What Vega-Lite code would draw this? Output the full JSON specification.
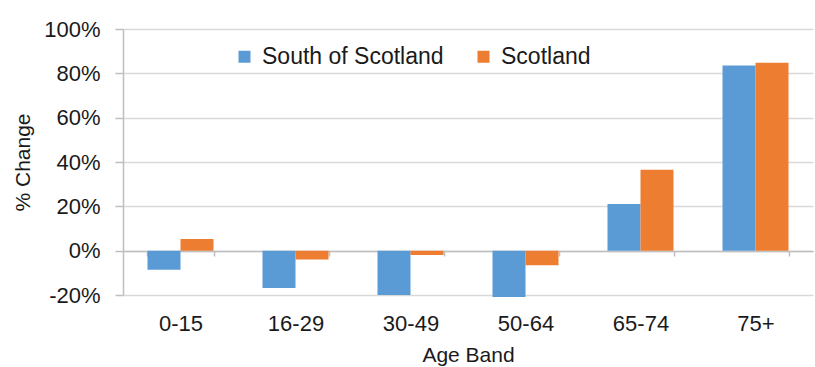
{
  "$schema": "https://vega.github.io/schema/vega-lite/v6.json",
  "width": 690,
  "height": 266,
  "autosize": {"type": "none"},
  "padding": {"left": 123, "top": 29, "right": 2, "bottom": 72},
  "background": "white",
  "config": {"font": "Liberation Sans", "view": {"stroke": null}},
  "data": {
    "values": [
      {"age": "0-15", "region": "South of Scotland", "value": -8.6},
      {"age": "0-15", "region": "Scotland", "value": 5.3},
      {"age": "16-29", "region": "South of Scotland", "value": -16.8},
      {"age": "16-29", "region": "Scotland", "value": -4.0},
      {"age": "30-49", "region": "South of Scotland", "value": -20.0},
      {"age": "30-49", "region": "Scotland", "value": -2.0},
      {"age": "50-64", "region": "South of Scotland", "value": -20.9},
      {"age": "50-64", "region": "Scotland", "value": -6.6},
      {"age": "65-74", "region": "South of Scotland", "value": 21.0},
      {"age": "65-74", "region": "Scotland", "value": 36.5},
      {"age": "75+", "region": "South of Scotland", "value": 83.5},
      {"age": "75+", "region": "Scotland", "value": 84.8}
    ]
  },
  "mark": {"type": "bar"},
  "encoding": {
    "x": {
      "field": "age",
      "type": "nominal",
      "sort": ["0-15", "16-29", "30-49", "50-64", "65-74", "75+"],
      "scale": {"paddingInner": 0.426, "paddingOuter": 0.213},
      "axis": {
        "title": "Age Band",
        "labelAngle": 0,
        "offset": -44,
        "domain": true,
        "domainColor": "#bfbfbf",
        "domainWidth": 1.5,
        "ticks": true,
        "tickBand": "extent",
        "tickSize": 5,
        "tickColor": "#bfbfbf",
        "tickWidth": 1.5,
        "labelPadding": 57,
        "labelFontSize": 22,
        "labelColor": "#1a1a1a",
        "titleFontSize": 21,
        "titleFontWeight": "normal",
        "titleColor": "#1a1a1a",
        "titlePadding": 10
      }
    },
    "xOffset": {"field": "region", "sort": ["South of Scotland", "Scotland"]},
    "y": {
      "field": "value",
      "type": "quantitative",
      "scale": {"domain": [-20, 100], "nice": false},
      "axis": {
        "title": "% Change",
        "values": [-20, 0, 20, 40, 60, 80, 100],
        "labelExpr": "datum.value + '%'",
        "domainColor": "#bfbfbf",
        "domainWidth": 1.5,
        "tickColor": "#bfbfbf",
        "tickSize": 8,
        "tickWidth": 1.5,
        "gridColor": "#d9d9d9",
        "gridWidth": 1.5,
        "labelPadding": 15,
        "labelFontSize": 22,
        "labelColor": "#1a1a1a",
        "titleFontSize": 21,
        "titleFontWeight": "normal",
        "titleColor": "#1a1a1a",
        "titlePadding": 10
      }
    },
    "color": {
      "field": "region",
      "type": "nominal",
      "sort": ["South of Scotland", "Scotland"],
      "scale": {"domain": ["South of Scotland", "Scotland"], "range": ["#5B9BD5", "#ED7D31"]},
      "legend": {
        "title": null,
        "orient": "none",
        "legendX": 110,
        "legendY": 16,
        "direction": "horizontal",
        "symbolType": "square",
        "symbolSize": 144,
        "symbolStrokeWidth": 0,
        "labelFontSize": 23,
        "labelLimit": 0,
        "labelColor": "#1a1a1a",
        "labelOffset": 6,
        "columnPadding": 28
      }
    }
  }
}
